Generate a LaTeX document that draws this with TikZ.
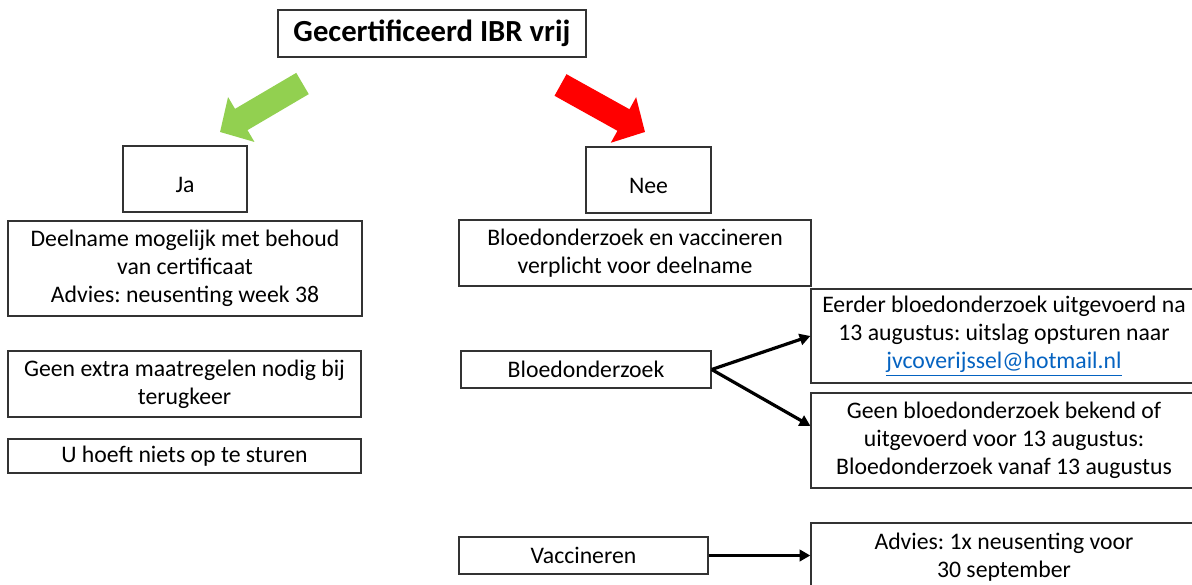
\documentclass[tikz,border=0pt]{standalone}
\usepackage{fontspec}
\setmainfont{Carlito}
\usetikzlibrary{arrows.meta}
\frenchspacing

\definecolor{jagreen}{RGB}{146,208,80}
\definecolor{neered}{RGB}{255,0,0}
\definecolor{linkblue}{RGB}{5,99,193}

\tikzset{
    box/.style 2 args={draw=black!80, line width=1pt, inner sep=0pt, align=center,
        minimum width=#1*0.75pt, minimum height=#2*0.75pt,
        font=\fontsize{17.8}{21}\selectfont},
    lowtext/.style={text height=20pt, text depth=0pt},
    bigarrow/.style={line width=18.5pt, draw=#1,
        -{Triangle[width=38pt,length=18.5pt,fill=#1]}},
    thinarrow/.style={line width=2.4pt, -{Triangle[width=8.5pt,length=8pt]}}
}

\begin{document}
\begin{tikzpicture}[x=0.75pt, y=-0.75pt]
    % Page frame
    \useasboundingbox (0,0) rectangle (1192,585);
    \clip (0,0) rectangle (1192,585);

    % Title
    \node[box={308}{47}, font=\fontsize{23}{27}\selectfont\bfseries] (title) at (432,33.5) {Gecertificeerd IBR vrij};

    % Big arrows under the title
    \coordinate (jatail) at (302.5,83.5);
    \coordinate (jatip) at (220,132);
    \coordinate (neetail) at (560.5,85);
    \coordinate (neetip) at (645,132);
    \draw[bigarrow=jagreen] (jatail) -- (jatip);
    \draw[bigarrow=neered] (neetail) -- (neetip);

    % Left column: Ja
    \node[box={124}{66}, lowtext] (ja) at (185,179) {Ja};
    \node[box={354}{95}] (behoud) at (185,268.5) {Deelname mogelijk met behoud\\van certificaat\\Advies: neusenting week 38};
    \node[box={353}{66}] (terug) at (184.5,384) {Geen extra maatregelen nodig bij\\terugkeer};
    \node[box={353}{34}] (sturen) at (184.5,456) {U hoeft niets op te sturen};

    % Middle column: Nee
    \node[box={125}{66}, lowtext] (nee) at (648.5,180) {Nee};
    \node[box={352}{66}] (verplicht) at (635,253) {Bloedonderzoek en vaccineren\\verplicht voor deelname};
    \node[box={250}{37}] (bloed) at (586,369.5) {Bloedonderzoek};
    \node[box={249}{37}] (vacc) at (583.5,555.5) {Vaccineren};

    % Right column
    \node[box={386}{94}] (eerder) at (1004,336) {Eerder bloedonderzoek uitgevoerd na\\13 augustus: uitslag opsturen naar\\\textcolor{linkblue}{\underline{jvcoverijssel@hotmail.nl}}};
    \node[box={386}{95}] (geenbloed) at (1004,440.5) {Geen bloedonderzoek bekend of\\uitgevoerd voor 13 augustus:\\Bloedonderzoek vanaf 13 augustus};
    \node[box={386}{68}] (advies) at (1004,557) {Advies: 1x neusenting voor\\30 september};

    % Connectors
    \draw[thinarrow] (bloed.east) -- (eerder.west);
    \draw[thinarrow] (bloed.east) -- ([yshift=11pt]geenbloed.west);
    \draw[thinarrow] (vacc.east) -- (vacc.east -| advies.west);
\end{tikzpicture}
\end{document}
